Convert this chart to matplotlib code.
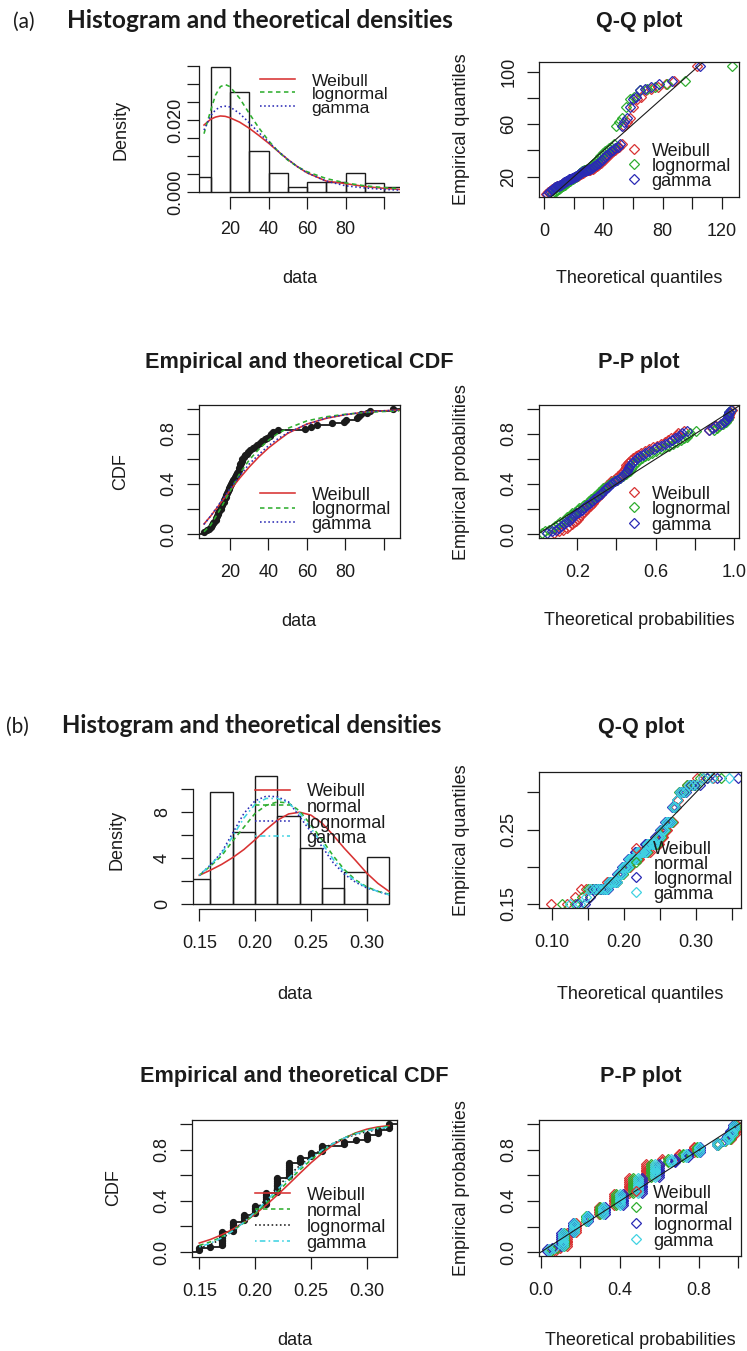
import numpy as np
import matplotlib
matplotlib.use("Agg")
import matplotlib.pyplot as plt

plt.rcParams['font.family'] = ['Liberation Sans', 'DejaVu Sans']

# ============================ DATA ============================
# ---------------- part (a) ----------------
hist_a_left = [0, 10, 20, 30, 40, 50, 60, 70, 80, 90, 100]
hist_a_density = [0.0043, 0.0346, 0.0278, 0.0114, 0.0054, 0.0015, 0.0028, 0.0028, 0.0054, 0.0027, 0.0015]

dens_a_x = [6.5, 10, 12.5, 15, 17.5, 20, 25, 30, 35, 40, 45, 50, 55, 60, 70, 80, 90, 100, 108]
dens_a_weibull = [0.0186, 0.0202, 0.0208, 0.0211, 0.0210, 0.0206, 0.0194, 0.0177, 0.0157, 0.0136,
                  0.0113, 0.0091, 0.0071, 0.0054, 0.0031, 0.0024, 0.0016, 0.0011, 0.0008]
dens_a_lognormal = [0.0162, 0.0227, 0.0269, 0.0292, 0.0298, 0.0292, 0.0260, 0.0218, 0.0178, 0.0143,
                    0.0113, 0.0089, 0.0071, 0.0057, 0.0038, 0.0026, 0.0018, 0.0013, 0.0010]
dens_a_gamma = [0.0172, 0.0212, 0.0228, 0.0236, 0.0238, 0.0236, 0.0218, 0.0192, 0.0165, 0.0139,
                0.0114, 0.0091, 0.0071, 0.0054, 0.0031, 0.0018, 0.0012, 0.0008, 0.0006]

emp_a = [6.5, 8.0, 9.2,
         10.1, 10.7, 11.4, 11.8, 12.5, 12.9, 13.2, 13.8, 14.0, 14.5,
         15.1, 15.3, 15.9, 16.1, 16.7, 17.0, 17.3, 17.9, 18.1, 18.6,
         18.8, 19.3, 19.5, 19.9,
         20.3, 20.9, 21.4, 22.0, 22.6, 23.1, 23.7, 24.2, 24.5, 24.8,
         25.0, 25.3, 25.6, 26.0, 26.5, 27.2, 27.9, 28.6, 29.4,
         30.5, 31.8, 33.0, 34.3, 35.6, 36.9, 38.2, 39.4,
         40.6, 41.5, 42.3, 44.8,
         59.0, 62.0, 65.0, 73.0, 79.0, 80.5, 86.0, 87.0, 88.0, 91.0, 93.0, 104.6]

cdf_a_x = [6.5, 10, 15, 20, 25, 30, 35, 40, 45, 50, 60, 70, 80, 90, 100, 108]
cdf_a_weibull = [0.080, 0.144, 0.245, 0.348, 0.446, 0.536, 0.617, 0.688, 0.748, 0.805, 0.880, 0.925, 0.955, 0.975, 0.986, 0.991]
cdf_a_lognormal = [0.018, 0.072, 0.200, 0.342, 0.481, 0.592, 0.678, 0.750, 0.805, 0.845, 0.905, 0.938, 0.958, 0.972, 0.980, 0.985]
cdf_a_gamma = [0.077, 0.145, 0.252, 0.362, 0.464, 0.560, 0.636, 0.706, 0.763, 0.810, 0.878, 0.928, 0.955, 0.975, 0.986, 0.991]

qq_a_weibull = [1.2, 2.6, 3.7, 4.6, 5.5, 6.4, 7.2, 8.0, 8.8, 9.6,
                10.3, 11.0, 11.7, 12.4, 13.1, 13.8, 14.6, 15.2, 15.9, 16.7,
                17.3, 18.0, 18.7, 19.4, 20.1, 20.8, 21.6, 22.3, 23.0, 23.7,
                24.5, 25.2, 26.0, 26.8, 27.6, 28.4, 29.2, 30.0, 30.8, 31.7,
                32.6, 33.4, 34.4, 35.3, 36.3, 37.2, 38.2, 39.3, 40.4, 41.5,
                42.6, 43.9, 45.1, 46.4, 47.8, 49.3, 50.8, 52.4, 54.2, 56.0,
                58.0, 60.3, 62.7, 65.4, 68.5, 72.3, 76.8, 82.6, 88.0, 103.0]
qq_a_lognormal = [5.3, 6.9, 8.0, 8.9, 9.6, 10.3, 10.9, 11.5, 12.1, 12.6,
                  13.2, 13.7, 14.2, 14.7, 15.2, 15.6, 16.1, 16.6, 17.1, 17.6,
                  18.1, 18.6, 19.1, 19.6, 20.1, 20.6, 21.1, 21.6, 22.1, 22.7,
                  23.2, 23.8, 24.3, 24.9, 25.5, 26.1, 26.7, 27.4, 28.0, 28.7,
                  29.3, 30.0, 30.8, 31.5, 32.3, 33.1, 34.0, 34.9, 35.8, 36.8,
                  37.8, 38.9, 40.0, 41.2, 42.5, 43.8, 45.3, 46.9, 48.7, 50.6,
                  52.7, 55.2, 57.8, 60.8, 64.7, 69.3, 75.1, 83.1, 95.5, 127.0]
qq_a_gamma = [1.5, 2.9, 4.0, 4.9, 5.8, 6.6, 7.5, 8.2, 8.9, 9.6,
              10.3, 11.0, 11.7, 12.3, 13.0, 13.6, 14.3, 14.9, 15.6, 16.2,
              16.9, 17.5, 18.1, 18.8, 19.5, 20.1, 20.8, 21.5, 22.1, 22.8,
              23.5, 24.2, 25.0, 25.7, 26.4, 27.2, 28.0, 28.8, 29.6, 30.4,
              31.2, 32.1, 33.0, 33.9, 34.8, 35.8, 36.8, 37.9, 39.0, 40.1,
              41.3, 42.5, 43.8, 45.1, 46.6, 48.1, 49.7, 51.4, 52.5, 54.0,
              55.8, 57.8, 60.0, 62.3, 65.0, 68.2, 72.0, 77.5, 86.5, 105.0]

pp_a_weibull = [0.080, 0.107, 0.129, 0.146, 0.159, 0.173, 0.181, 0.194, 0.203, 0.209,
                0.221, 0.226, 0.234, 0.247, 0.251, 0.264, 0.269, 0.279, 0.286, 0.293,
                0.306, 0.309, 0.320, 0.323, 0.334, 0.337, 0.346, 0.354, 0.366, 0.374,
                0.387, 0.399, 0.409, 0.421, 0.430, 0.436, 0.441, 0.446, 0.451, 0.457,
                0.464, 0.473, 0.486, 0.499, 0.511, 0.526, 0.544, 0.566, 0.586, 0.606,
                0.626, 0.646, 0.663, 0.680, 0.696, 0.707, 0.716, 0.746, 0.871, 0.889,
                0.906, 0.934, 0.951, 0.954, 0.970, 0.971, 0.973, 0.979, 0.980, 0.990]
pp_a_lognormal = [0.018, 0.036, 0.056, 0.074, 0.089, 0.104, 0.114, 0.133, 0.143, 0.150,
                  0.167, 0.173, 0.187, 0.204, 0.210, 0.230, 0.236, 0.253, 0.261, 0.270,
                  0.287, 0.293, 0.307, 0.313, 0.327, 0.333, 0.344, 0.356, 0.373, 0.387,
                  0.404, 0.419, 0.433, 0.447, 0.461, 0.469, 0.476, 0.481, 0.489, 0.496,
                  0.504, 0.517, 0.531, 0.547, 0.563, 0.580, 0.601, 0.627, 0.649, 0.669,
                  0.690, 0.709, 0.727, 0.743, 0.757, 0.767, 0.776, 0.803, 0.899, 0.911,
                  0.923, 0.944, 0.957, 0.960, 0.967, 0.969, 0.970, 0.973, 0.974, 0.983]
pp_a_gamma = [0.045, 0.070, 0.090, 0.105, 0.118, 0.132, 0.141, 0.156, 0.166, 0.173,
              0.190, 0.196, 0.208, 0.224, 0.231, 0.245, 0.252, 0.266, 0.274, 0.283,
              0.301, 0.308, 0.321, 0.327, 0.340, 0.345, 0.356, 0.366, 0.378, 0.390,
              0.404, 0.417, 0.427, 0.440, 0.450, 0.456, 0.461, 0.464, 0.470, 0.477,
              0.484, 0.494, 0.507, 0.520, 0.533, 0.547, 0.566, 0.589, 0.607, 0.627,
              0.647, 0.666, 0.683, 0.699, 0.713, 0.724, 0.733, 0.761, 0.873, 0.890,
              0.904, 0.934, 0.950, 0.953, 0.964, 0.966, 0.967, 0.971, 0.973, 0.983]

# ---------------- part (b) ----------------
hist_b_left = [0.14, 0.16, 0.18, 0.20, 0.22, 0.24, 0.26, 0.28, 0.30]
hist_b_density = [2.15, 9.74, 6.30, 11.16, 7.67, 4.85, 1.37, 2.76, 4.13]

dens_b_x = [0.15, 0.16, 0.17, 0.18, 0.19, 0.20, 0.21, 0.22, 0.23,
            0.24, 0.25, 0.26, 0.27, 0.28, 0.29, 0.30, 0.31, 0.32]
dens_b_weibull = [2.5, 2.95, 3.45, 4.05, 4.75, 5.6, 6.5, 7.3, 7.85, 8.0, 7.75, 7.05, 6.0, 4.85, 3.8, 2.7, 1.8, 1.1]
dens_b_normal = [2.5, 3.3, 4.2, 5.5, 6.7, 7.9, 8.6, 8.9, 8.8, 8.1, 6.9, 5.6, 4.2, 3.0, 2.1, 1.5, 1.1, 0.85]
dens_b_lognormal = [2.5, 3.4, 4.5, 6.2, 7.9, 9.0, 9.4, 9.35, 8.9, 7.6, 6.3, 5.0, 3.6, 2.6, 1.9, 1.4, 1.1, 0.8]
dens_b_gamma = [2.5, 3.4, 4.4, 5.9, 7.5, 8.7, 9.2, 9.2, 8.8, 7.9, 6.6, 5.3, 3.9, 2.8, 2.0, 1.45, 1.1, 0.8]

emp_b_values = [0.15, 0.16, 0.17, 0.18, 0.19, 0.20, 0.21, 0.22, 0.23,
                0.24, 0.25, 0.26, 0.28, 0.29, 0.30, 0.31, 0.32]
emp_b_counts = [2, 1, 8, 6, 4, 5, 7, 9, 8, 3, 3, 4, 2, 1, 3, 3, 3]

cdf_b_x = dens_b_x
cdf_b_weibull = [0.070, 0.098, 0.134, 0.178, 0.232, 0.296, 0.368, 0.447, 0.530, 0.615, 0.698, 0.773, 0.839, 0.892, 0.933, 0.962, 0.980, 0.990]
cdf_b_normal = [0.051, 0.079, 0.117, 0.166, 0.228, 0.300, 0.381, 0.468, 0.557, 0.642, 0.721, 0.791, 0.849, 0.895, 0.930, 0.955, 0.973, 0.984]
cdf_b_lognormal = [0.029, 0.058, 0.103, 0.164, 0.239, 0.325, 0.417, 0.509, 0.597, 0.677, 0.746, 0.805, 0.852, 0.890, 0.920, 0.942, 0.959, 0.971]
cdf_b_gamma = [0.040, 0.068, 0.110, 0.165, 0.233, 0.312, 0.399, 0.489, 0.577, 0.659, 0.734, 0.798, 0.850, 0.893, 0.925, 0.949, 0.966, 0.978]

qq_b_weibull = [0.0981, 0.1199, 0.1318, 0.1403, 0.1470, 0.1527, 0.1576, 0.1620, 0.1660, 0.1696,
                0.1730, 0.1761, 0.1791, 0.1818, 0.1845, 0.1870, 0.1895, 0.1918, 0.1941, 0.1963,
                0.1984, 0.2004, 0.2024, 0.2044, 0.2063, 0.2082, 0.2101, 0.2119, 0.2136, 0.2154,
                0.2171, 0.2189, 0.2206, 0.2222, 0.2239, 0.2256, 0.2272, 0.2289, 0.2305, 0.2321,
                0.2338, 0.2354, 0.2370, 0.2387, 0.2403, 0.2420, 0.2437, 0.2453, 0.2470, 0.2488,
                0.2505, 0.2523, 0.2540, 0.2559, 0.2578, 0.2597, 0.2616, 0.2637, 0.2658, 0.2679,
                0.2702, 0.2726, 0.2751, 0.2778, 0.2807, 0.2838, 0.2873, 0.2913, 0.2959, 0.3017,
                0.3095, 0.3239]
qq_b_normal = [0.1129, 0.1319, 0.1419, 0.1490, 0.1546, 0.1592, 0.1633, 0.1670, 0.1703, 0.1733,
               0.1762, 0.1788, 0.1813, 0.1837, 0.1859, 0.1881, 0.1902, 0.1922, 0.1942, 0.1961,
               0.1980, 0.1998, 0.2016, 0.2033, 0.2051, 0.2068, 0.2084, 0.2101, 0.2117, 0.2133,
               0.2150, 0.2165, 0.2181, 0.2197, 0.2213, 0.2228, 0.2244, 0.2259, 0.2275, 0.2291,
               0.2307, 0.2322, 0.2339, 0.2355, 0.2371, 0.2388, 0.2404, 0.2421, 0.2439, 0.2456,
               0.2474, 0.2492, 0.2511, 0.2530, 0.2550, 0.2570, 0.2591, 0.2613, 0.2635, 0.2659,
               0.2684, 0.2710, 0.2739, 0.2769, 0.2802, 0.2839, 0.2880, 0.2926, 0.2982, 0.3053,
               0.3153, 0.3343]
qq_b_lognormal = [0.1339, 0.1457, 0.1523, 0.1572, 0.1611, 0.1645, 0.1676, 0.1703, 0.1728, 0.1752,
                  0.1774, 0.1795, 0.1815, 0.1834, 0.1852, 0.1871, 0.1888, 0.1905, 0.1922, 0.1938,
                  0.1954, 0.1971, 0.1986, 0.2001, 0.2017, 0.2032, 0.2047, 0.2063, 0.2077, 0.2092,
                  0.2107, 0.2122, 0.2137, 0.2152, 0.2167, 0.2183, 0.2197, 0.2213, 0.2229, 0.2244,
                  0.2260, 0.2276, 0.2293, 0.2309, 0.2325, 0.2343, 0.2360, 0.2378, 0.2397, 0.2415,
                  0.2433, 0.2454, 0.2475, 0.2495, 0.2518, 0.2540, 0.2563, 0.2590, 0.2615, 0.2642,
                  0.2672, 0.2704, 0.2738, 0.2776, 0.2816, 0.2862, 0.2916, 0.2977, 0.3051, 0.3149,
                  0.3292, 0.3582]
qq_b_gamma = [0.1250, 0.1388, 0.1471, 0.1531, 0.1579, 0.1619, 0.1655, 0.1687, 0.1716, 0.1743,
              0.1768, 0.1792, 0.1814, 0.1836, 0.1856, 0.1876, 0.1895, 0.1914, 0.1932, 0.1950,
              0.1967, 0.1985, 0.2001, 0.2017, 0.2034, 0.2050, 0.2066, 0.2082, 0.2097, 0.2113,
              0.2129, 0.2144, 0.2159, 0.2175, 0.2190, 0.2206, 0.2221, 0.2236, 0.2252, 0.2268,
              0.2284, 0.2299, 0.2316, 0.2332, 0.2348, 0.2366, 0.2382, 0.2400, 0.2418, 0.2436,
              0.2454, 0.2473, 0.2493, 0.2513, 0.2534, 0.2555, 0.2577, 0.2602, 0.2625, 0.2651,
              0.2678, 0.2707, 0.2739, 0.2773, 0.2809, 0.2851, 0.2898, 0.2952, 0.3017, 0.3101,
              0.3223, 0.3463]

pp_b_weibull = [0.070, 0.098, 0.134, 0.178, 0.232, 0.296, 0.368, 0.447, 0.530, 0.615, 0.698, 0.773, 0.892, 0.933, 0.962, 0.980, 0.990]
pp_b_normal = [0.051, 0.079, 0.117, 0.166, 0.228, 0.300, 0.381, 0.468, 0.557, 0.642, 0.721, 0.791, 0.895, 0.930, 0.955, 0.973, 0.984]
pp_b_lognormal = [0.029, 0.058, 0.103, 0.164, 0.239, 0.325, 0.417, 0.509, 0.597, 0.677, 0.746, 0.805, 0.890, 0.920, 0.942, 0.959, 0.971]
pp_b_gamma = [0.040, 0.068, 0.110, 0.165, 0.233, 0.312, 0.399, 0.489, 0.577, 0.659, 0.734, 0.798, 0.893, 0.925, 0.949, 0.966, 0.978]

labels_a = ['Weibull', 'lognormal', 'gamma']
labels_b = ['Weibull', 'normal', 'lognormal', 'gamma']

for arr in (qq_a_weibull, qq_a_lognormal, qq_a_gamma, pp_a_weibull, pp_a_lognormal, pp_a_gamma):
    assert len(arr) == len(emp_a)
for arr in (qq_b_weibull, qq_b_normal, qq_b_lognormal, qq_b_gamma):
    assert len(arr) == sum(emp_b_counts)

# ============================ STYLE ============================
WPX, HPX = 747, 1351
INK = '#1b1b1b'
RED = '#d83232'
GREEN = '#2fae2f'
BLUE = '#2a2ab5'
CYAN = '#40d2e2'
DASH = (0, (2.8, 2.2))
DOT = (0, (1.0, 1.6))
DASHDOT = (0, (1.0, 2.0, 3.5, 2.0))
FS = 13
FST = 15.6
LW = 1.15
MS = 4.6
MEW = 0.9
XPAD = 10.2

fig = plt.figure(figsize=(WPX / 100, HPX / 100), dpi=100)
fig.patch.set_facecolor('white')


def add_ax(box):
    x0, x1, y0, y1 = box
    return fig.add_axes([x0 / WPX, 1 - y1 / HPX, (x1 - x0) / WPX, (y1 - y0) / HPX])


def r_style(ax, xlim, ylim, xt, xtl, yt, ytl, box=True, xpad=XPAD, ypad=7.0):
    ax.set_xlim(xlim)
    ax.set_ylim(ylim)
    ax.set_xticks(xt, labels=xtl)
    ax.set_yticks(yt, labels=ytl)
    ax.tick_params(direction='out', length=8.6, width=0.9, color=INK, labelcolor=INK, labelsize=FS)
    ax.tick_params(axis='x', pad=xpad)
    ax.tick_params(axis='y', pad=ypad, labelrotation=90)
    for lab in ax.get_yticklabels():
        lab.set_verticalalignment('center')
    for sp in ax.spines.values():
        sp.set_linewidth(0.9)
        sp.set_color(INK)
    if not box:
        ax.spines['top'].set_visible(False)
        ax.spines['right'].set_visible(False)
        ax.spines['left'].set_bounds(yt[0], yt[-1])
        ax.spines['bottom'].set_bounds(xt[0], xt[-1])
    ax.patch.set_alpha(0)


def ecdf(ax, data, lw=1.3, ms=4.2):
    d = np.asarray(data, dtype=float)
    n = len(d)
    ys = np.arange(1, n + 1) / n
    ax.hlines(0, -1e3, d[0], color=INK, lw=lw)
    ax.hlines(ys, d, np.r_[d[1:], 1e3], color=INK, lw=lw)
    ax.plot(d, ys, ls='none', marker='o', color=INK, ms=ms)


def diamonds(ax, x, y, color):
    ax.plot(x, y, ls='none', marker='D', mfc='none', mec=color, ms=MS, mew=MEW)


# ---------------- (a) histogram ----------------
ax = add_ax((199, 400, 61.7, 197.3))
ax.bar(hist_a_left, hist_a_density, width=10, align='edge', fill=False, edgecolor=INK, linewidth=1.0)
ax.plot(dens_a_x, dens_a_weibull, color=RED, lw=LW)
ax.plot(dens_a_x, dens_a_lognormal, color=GREEN, lw=LW, ls=DASH)
ax.plot(dens_a_x, dens_a_gamma, color=BLUE, lw=LW, ls=DOT)
r_style(ax, (3.9, 108.3), (-0.00138, 0.0361),
        [20, 40, 60, 80, 100], ['20', '40', '60', '80', ''],
        [0, 0.005, 0.010, 0.015, 0.020, 0.025, 0.030, 0.035],
        ['0.000', '', '', '', '0.020', '', '', ''], box=False, xpad=8.5, ypad=2.0)

# ---------------- (a) Q-Q ----------------
ax = add_ax((539, 739.3, 62.3, 196.7))
for th, c in ((qq_a_weibull, RED), (qq_a_lognormal, GREEN), (qq_a_gamma, BLUE)):
    diamonds(ax, th, emp_a, c)
ax.plot([-50, 200], [-50, 200], color=INK, lw=0.8)
r_style(ax, (-3.6, 131.9), (4.76, 107.2),
        [0, 20, 40, 60, 80, 100, 120], ['0', '', '40', '', '80', '', '120'],
        [20, 40, 60, 80, 100], ['20', '', '60', '', '100'])

# ---------------- (a) CDF ----------------
ax = add_ax((199, 399.5, 405, 538.3))
ecdf(ax, emp_a)
ax.plot(cdf_a_x, cdf_a_weibull, color=RED, lw=LW)
ax.plot(cdf_a_x, cdf_a_lognormal, color=GREEN, lw=LW, ls=DASH)
ax.plot(cdf_a_x, cdf_a_gamma, color=BLUE, lw=LW, ls=DOT)
r_style(ax, (3.9, 108.1), (-0.0344, 1.032),
        [20, 40, 60, 80, 100], ['20', '40', '60', '80', ''],
        [0, 0.2, 0.4, 0.6, 0.8, 1.0], ['0.0', '', '0.4', '', '0.8', ''])

# ---------------- (a) P-P ----------------
ax = add_ax((539, 739.3, 405, 538.3))
pa = (np.arange(1, len(emp_a) + 1) - 0.5) / len(emp_a)
for th, c in ((pp_a_weibull, RED), (pp_a_lognormal, GREEN), (pp_a_gamma, BLUE)):
    diamonds(ax, th, pa, c)
ax.plot([-1, 2], [-1, 2], color=INK, lw=0.8)
r_style(ax, (0.005, 1.026), (-0.0344, 1.032),
        [0.2, 0.4, 0.6, 0.8, 1.0], ['0.2', '', '0.6', '', '1.0'],
        [0, 0.2, 0.4, 0.6, 0.8, 1.0], ['0.0', '', '0.4', '', '0.8', ''])

# ---------------- (b) histogram ----------------
ax = add_ax((192.7, 396.6, 771.5, 909.1))
ax.bar(hist_b_left, hist_b_density, width=0.02, align='edge', fill=False, edgecolor=INK, linewidth=1.0)
ax.plot(dens_b_x, dens_b_weibull, color=RED, lw=LW)
ax.plot(dens_b_x, dens_b_normal, color=GREEN, lw=LW, ls=DASH)
ax.plot(dens_b_x, dens_b_lognormal, color=BLUE, lw=LW, ls=DOT)
ax.plot(dens_b_x, dens_b_gamma, color=CYAN, lw=LW, ls=DASHDOT)
r_style(ax, (0.1441, 0.3268), (-0.445, 11.55),
        [0.15, 0.20, 0.25, 0.30], ['0.15', '0.20', '0.25', '0.30'],
        [0, 2, 4, 6, 8, 10], ['0', '', '4', '', '8', ''], box=False)

# ---------------- (b) Q-Q ----------------
emp_b = np.repeat(emp_b_values, emp_b_counts)
ax = add_ax((539, 741, 771.7, 908.3))
for th, c in ((qq_b_weibull, RED), (qq_b_normal, GREEN), (qq_b_lognormal, BLUE), (qq_b_gamma, CYAN)):
    diamonds(ax, th, emp_b, c)
ax.plot([-1, 2], [-1, 2], color=INK, lw=0.8)
r_style(ax, (0.0815, 0.3626), (0.1442, 0.3278),
        [0.10, 0.15, 0.20, 0.25, 0.30, 0.35], ['0.10', '', '0.20', '', '0.30', ''],
        [0.15, 0.20, 0.25, 0.30], ['0.15', '', '0.25', ''])

# ---------------- (b) CDF ----------------
ax = add_ax((192, 397.3, 1120, 1256.7))
ecdf(ax, emp_b)
ax.plot(cdf_b_x, cdf_b_weibull, color=RED, lw=LW)
ax.plot(cdf_b_x, cdf_b_normal, color=GREEN, lw=LW, ls=DASH)
ax.plot(cdf_b_x, cdf_b_lognormal, color=INK, lw=LW, ls=DOT)
ax.plot(cdf_b_x, cdf_b_gamma, color=CYAN, lw=LW, ls=DASHDOT)
r_style(ax, (0.1435, 0.3274), (-0.037, 1.034),
        [0.15, 0.20, 0.25, 0.30], ['0.15', '0.20', '0.25', '0.30'],
        [0, 0.2, 0.4, 0.6, 0.8, 1.0], ['0.0', '', '0.4', '', '0.8', ''])

# ---------------- (b) P-P ----------------
ax = add_ax((539, 741, 1120, 1256))
pb = (np.arange(1, len(emp_b) + 1) - 0.5) / len(emp_b)
for th, c in ((pp_b_weibull, RED), (pp_b_normal, GREEN), (pp_b_lognormal, BLUE), (pp_b_gamma, CYAN)):
    diamonds(ax, np.repeat(th, emp_b_counts), pb, c)
ax.plot([-1, 2], [-1, 2], color=INK, lw=0.8)
r_style(ax, (-0.0101, 1.0127), (-0.031, 1.034),
        [0, 0.2, 0.4, 0.6, 0.8, 1.0], ['0.0', '', '0.4', '', '0.8', ''],
        [0, 0.2, 0.4, 0.6, 0.8, 1.0], ['0.0', '', '0.4', '', '0.8', ''])

# ============================ OVERLAY: titles, labels, legends ============================
ov = fig.add_axes([0, 0, 1, 1], zorder=10)
ov.set_xlim(0, WPX)
ov.set_ylim(HPX, 0)
ov.set_axis_off()
ov.patch.set_visible(False)


def txt(x, y, s, **kw):
    kw.setdefault('fontsize', FS)
    kw.setdefault('color', INK)
    return ov.text(x, y, s, **kw)


def title(x, y, s):
    txt(x, y, s, fontsize=FST, fontweight='bold', ha='center', va='baseline')


def xlab(x, y, s):
    txt(x, y, s, ha='center', va='baseline')


def ylab(x, y, s):
    txt(x, y, s, ha='center', va='center', rotation=90)


def legend_lines(x0, x1, xt, rows, labels, colors, styles, fs=FS):
    for r, lab, c, ls in zip(rows, labels, colors, styles):
        ov.plot([x0, x1], [r, r], color=c, ls=ls, lw=LW)
        txt(xt, r + 7.0, lab, ha='left', va='baseline', fontsize=fs)


def legend_marks(xm, xt, rows, labels, colors):
    for r, lab, c in zip(rows, labels, colors):
        ov.plot([xm], [r], ls='none', marker='D', mfc='none', mec=c, ms=MS, mew=MEW)
        txt(xt, r + 7.0, lab, ha='left', va='baseline')


# headers (Calibri-like)
hdr_font = ['Lato', 'DejaVu Sans']
txt(13, 28.3, '(a)', fontsize=15, family=hdr_font, ha='left', va='baseline')
ha_ = txt(67, 28.3, 'Histogram and theoretical densities', fontsize=15, family=hdr_font,
          fontweight='bold', ha='left', va='baseline')
txt(6, 733.3, '(b)', fontsize=15, family=hdr_font, ha='left', va='baseline')
hb_ = txt(61.7, 733.3, 'Histogram and theoretical densities', fontsize=15, family=hdr_font,
          fontweight='bold', ha='left', va='baseline')

# (a)
title(639, 26.7, 'Q-Q plot')
title(299, 368.3, 'Empirical and theoretical CDF')
title(639, 368.3, 'P-P plot')
ylab(121, 129.5, 'Density')
xlab(299.5, 283, 'data')
ylab(461, 129.5, 'Empirical quantiles')
xlab(639, 283.3, 'Theoretical quantiles')
ylab(121, 471.7, 'CDF')
xlab(299, 626, 'data')
ylab(462, 471.7, 'Empirical probabilities')
xlab(639, 625, 'Theoretical probabilities')

cols_a = [RED, GREEN, BLUE]
legend_lines(260, 295, 311.7, [78.5, 92.0, 105.5], labels_a, cols_a, ['-', DASH, DOT], fs=12.6)
legend_marks(634.3, 651.7, [149.3, 164.3, 179.3], labels_a, cols_a)
legend_lines(260, 295, 311.7, [493, 507.5, 522], labels_a, cols_a, ['-', DASH, DOT])
legend_marks(634.3, 651.7, [491.7, 507.3, 522.7], labels_a, cols_a)

# (b)
title(641, 733.3, 'Q-Q plot')
title(294.7, 1081.7, 'Empirical and theoretical CDF')
title(641, 1082, 'P-P plot')
ylab(117, 840, 'Density')
xlab(294.7, 999, 'data')
ylab(461, 840, 'Empirical quantiles')
xlab(640, 999, 'Theoretical quantiles')
ylab(114, 1188, 'CDF')
xlab(294.7, 1345, 'data')
ylab(461, 1188, 'Empirical probabilities')
xlab(640, 1345, 'Theoretical probabilities')

cols_b = [RED, GREEN, BLUE, CYAN]
legend_lines(255, 290, 306.7, [789.5, 805, 820.5, 836], labels_b, cols_b, ['-', DASH, DOT, DASHDOT])
legend_marks(636, 653.3, [847.5, 862, 877, 892], labels_b, cols_b)
legend_lines(255, 290, 306.7, [1193, 1209, 1225, 1241], labels_b, [RED, GREEN, INK, CYAN],
             ['-', DASH, DOT, DASHDOT])
legend_marks(635.7, 653.3, [1190.5, 1206.7, 1223.3, 1239.3], labels_b, cols_b)

# fit the header widths to the reference
renderer = fig.canvas.get_renderer()
for t, target in ((ha_, 386.0), (hb_, 380.0)):
    w = t.get_window_extent(renderer=renderer).width
    t.set_fontsize(t.get_fontsize() * target / w)

fig.savefig('out.png', dpi=100, facecolor='white')
